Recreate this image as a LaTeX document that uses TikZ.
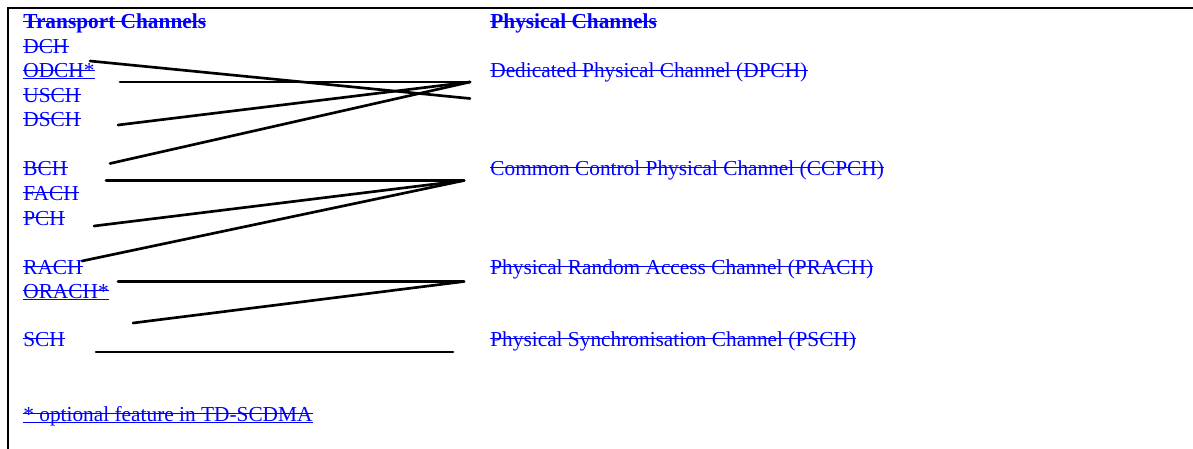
\documentclass[tikz,border=0pt]{standalone}
\usepackage{fontspec}
\setmainfont{Liberation Serif}
\usepackage{xcolor}
\usepackage{tikz}
\usetikzlibrary{positioning, calc}
\definecolor{chanblue}{RGB}{0,0,255}

\begin{document}
\begin{tikzpicture}[
        x=0.5625pt, y=-0.5625pt,
        chan/.style={
            anchor=base west,
            inner sep=0pt,
            text=chanblue,
            font=\fontsize{12}{14}\selectfont
        },
        hdr/.style={chan, font=\fontsize{12}{14}\selectfont\bfseries},
        link/.style={line width=1.5pt, line cap=round},
        strike/.style={chanblue, line width=0.6pt},
        frame/.style={line width=1.2pt}
    ]
        \useasboundingbox (0,0) rectangle (1193,449);

        % Frame
        \draw[frame] (1193,8) -- (8,8) -- (8,449);

        % Transport channels
        \node[hdr] (transport_hdr) at (23,28.5) {Transport Channels};
        \node[chan] (dch) at (23,53.5) {DCH};
        \node[chan] (odch) at (23,77.5) {ODCH*};
        \node[chan] (usch) at (23,102) {USCH};
        \node[chan] (dsch) at (23,126) {DSCH};
        \node[chan] (bch) at (23,175) {BCH};
        \node[chan] (fach) at (23,200) {FACH};
        \node[chan] (pch) at (23,225) {PCH};
        \node[chan] (rach) at (23,274) {RACH};
        \node[chan] (orach) at (23,298) {ORACH*};
        \node[chan] (sch) at (23,346) {SCH};
        \node[chan] (note) at (23,421) {* optional feature in TD-SCDMA};

        % Physical channels
        \node[hdr] (physical_hdr) at (490,28.5) {Physical Channels};
        \node[chan] (dpch) at (490,77.5) {Dedicated Physical Channel (DPCH)};
        \node[chan] (ccpch) at (490,175) {Common Control Physical Channel (CCPCH)};
        \node[chan] (prach) at (490,274) {Physical Random Access Channel (PRACH)};
        \node[chan] (psch) at (490,346) {Physical Synchronisation Channel (PSCH)};

        % Deleted text
        \foreach \n in {transport_hdr, dch, odch, usch, dsch, bch, fach, pch, rach, orach, sch, note,
                        physical_hdr, dpch, ccpch, prach, psch}
            \draw[strike] ([yshift=4.2pt]\n.base west) -- ([yshift=4.2pt]\n.base east);
        \foreach \n in {odch, orach, note}
            \draw[strike] ([yshift=-0.8pt]\n.base west) -- ([yshift=-0.8pt]\n.base east);

        % Line ends
        \coordinate (odch_out) at (90,61);
        \coordinate (usch_out) at (120,82);
        \coordinate (dsch_out) at (118,125);
        \coordinate (bch_up) at (110,163.5);
        \coordinate (dpch_in) at (470,82);
        \coordinate (dpch_low) at (470,98.5);
        \coordinate (bch_out) at (106,180.5);
        \coordinate (pch_out) at (94,226);
        \coordinate (rach_up) at (82,261);
        \coordinate (ccpch_in) at (464,180.5);
        \coordinate (rach_out) at (118,281.5);
        \coordinate (orach_out) at (133,323);
        \coordinate (prach_in) at (464,281.5);
        \coordinate (sch_out) at (96,352);
        \coordinate (psch_in) at (453,352);

        % Mapping
        \draw[link] (odch_out) -- (dpch_low);
        \draw[link] (usch_out) -- (dpch_in);
        \draw[link] (dsch_out) -- (dpch_in);
        \draw[link] (bch_up) -- (dpch_in);

        \draw[link] (bch_out) -- (ccpch_in);
        \draw[link] (pch_out) -- (ccpch_in);
        \draw[link] (rach_up) -- (ccpch_in);

        \draw[link] (rach_out) -- (prach_in);
        \draw[link] (orach_out) -- (prach_in);

        \draw[link] (sch_out) -- (psch_in);

    \end{tikzpicture}
\end{document}
